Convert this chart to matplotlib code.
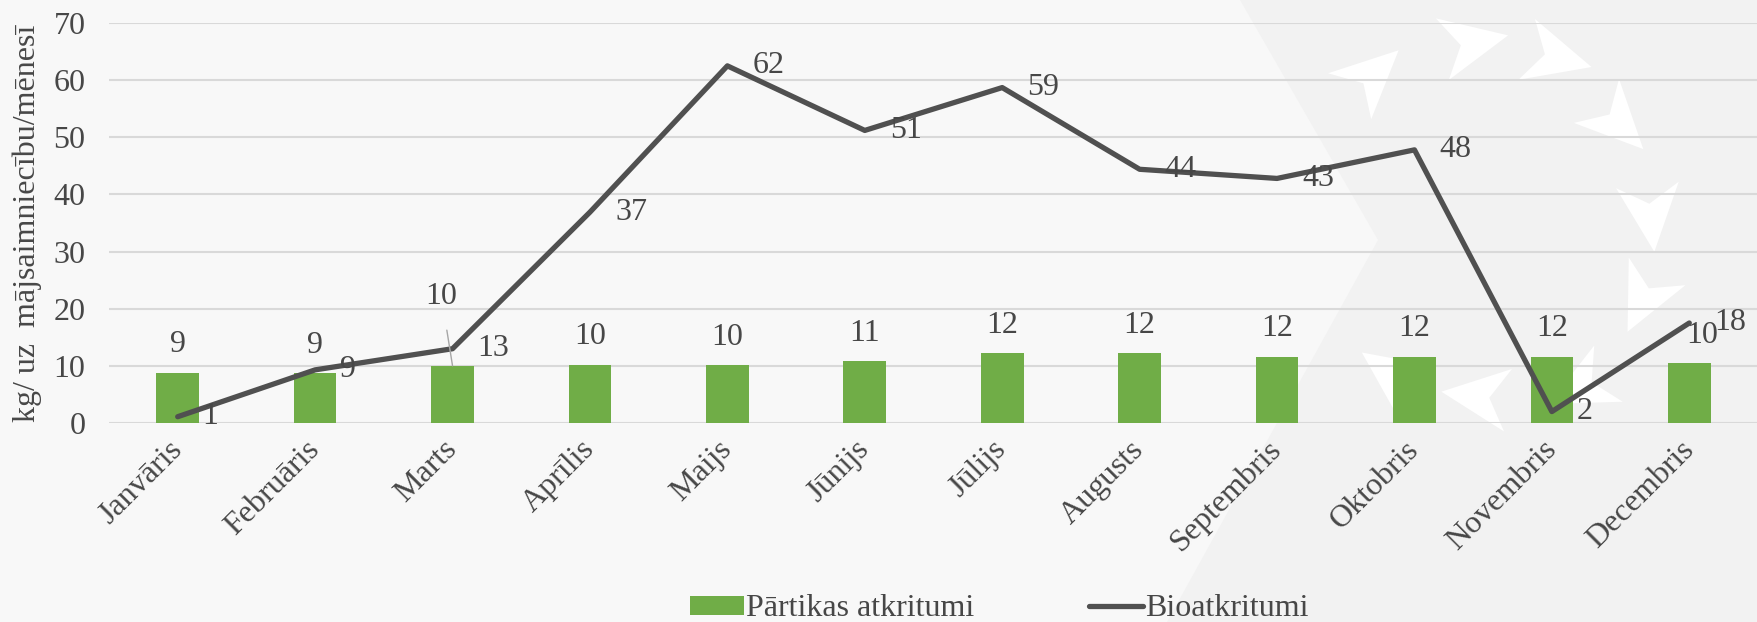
import numpy as np
import matplotlib.pyplot as plt
from matplotlib.patches import Patch, Polygon
from matplotlib.lines import Line2D

# Dati
menesi = ["Janvāris", "Februāris", "Marts", "Aprīlis", "Maijs", "Jūnijs",
          "Jūlijs", "Augusts", "Septembris", "Oktobris", "Novembris", "Decembris"]
partikas = [8.8, 8.7, 10.0, 10.2, 10.1, 10.8, 12.2, 12.2, 11.6, 11.6, 11.6, 10.5]
bio = [1.1, 9.3, 13.0, 36.9, 62.5, 51.2, 58.7, 44.4, 42.8, 47.8, 2.0, 17.5]

W, H = 1758, 622
GREEN = "#70AD47"
LINE = "#505050"
TEXT = "#474747"
FS = 23

plt.rcParams["font.family"] = ["Liberation Serif", "DejaVu Serif"]

fig = plt.figure(figsize=(W / 100, H / 100), dpi=100)
fig.patch.set_facecolor("#F8F8F8")


def px(points):
    return [(x / W, 1 - y / H) for x, y in points]


# fona dekorācija (pelēkais laukums un baltās bultas)
fig.patches.append(Polygon(px([(1240, 0), (W, 0), (W, H), (1167, H), (1378, 240)]),
                           closed=True, transform=fig.transFigure,
                           facecolor="#F2F2F2", edgecolor="none", zorder=-2))

arrow_pos = [(1368, 79), (1467, 44), (1551, 56), (1614, 119), (1650, 210),
             (1646, 294), (1586, 385), (1483, 397), (1396, 377)]
cx, cy = 1505, 225
shape = np.array([(1.0, 0.0), (-0.6, 0.75), (-0.15, 0.0), (-0.6, -0.75)]) * 42
for x, y in arrow_pos:
    ang = np.arctan2(y - cy, x - cx) + np.pi / 2
    rot = np.array([[np.cos(ang), -np.sin(ang)], [np.sin(ang), np.cos(ang)]])
    pts = shape @ rot.T + (x, y)
    fig.patches.append(Polygon(px(pts), closed=True, transform=fig.transFigure,
                               facecolor="white", edgecolor="none", zorder=-1))

ax = fig.add_axes([109 / W, 1 - 423 / H, (W - 109) / W, 400 / H])
ax.set_zorder(1)
ax.set_facecolor("none")
x = np.arange(len(menesi))

ax.bar(x, partikas, width=0.31, color=GREEN, zorder=2)
ax.plot(x, bio, color=LINE, lw=3.8, solid_capstyle="round", zorder=3)

ax.set_xlim(-0.5, len(menesi) - 0.5)
ax.set_ylim(0, 70)
ax.set_yticks(range(0, 71, 10))
ax.grid(axis="y", color="#D9D9D9", lw=1.5, zorder=1)
ax.set_axisbelow(True)
for s in ax.spines.values():
    s.set_visible(False)
ax.tick_params(length=0, labelsize=FS, labelcolor=TEXT)
ax.tick_params(axis="y", pad=17)
ax.set_xticks(x)
ax.set_xticklabels(menesi, rotation=45, ha="right", va="center",
                   rotation_mode="anchor")
ax.tick_params(axis="x", pad=16)
ax.set_ylabel("kg/ uz  mājsaimniecību/mēnesī", fontsize=FS, color=TEXT)
ax.yaxis.set_label_coords(-0.0406, 0.5)

# datu etiķetes
for i, v in enumerate(partikas):
    if i == 2:
        ax.annotate(f"{v:.0f}", (i, v), xytext=(-8, 50), textcoords="offset points",
                    ha="center", va="center", fontsize=FS, color=TEXT, zorder=4,
                    arrowprops=dict(arrowstyle="-", color="#A6A6A6", lw=1,
                                    shrinkA=12, shrinkB=0))
        continue
    dx = 9 if i == 11 else 0
    ax.annotate(f"{v:.0f}", (i, v), xytext=(dx, 20), textcoords="offset points",
                ha="center", va="center", fontsize=FS, color=TEXT, zorder=4)

for i, v in enumerate(bio):
    ax.annotate(f"{v:.0f}", (i, v), xytext=(18, 0), textcoords="offset points",
                ha="left", va="center", fontsize=FS, color=TEXT, zorder=4)

handles = [Patch(facecolor=GREEN, edgecolor="none"),
           Line2D([], [], color=LINE, lw=3.8, solid_capstyle="round")]
fig.legend(handles, ["Pārtikas atkritumi", "Bioatkritumi"], loc="center",
           bbox_to_anchor=(999 / W, 1 - 609 / H), ncol=2, frameon=False,
           fontsize=FS, labelcolor=TEXT, handlelength=1.7, handleheight=0.55,
           handletextpad=0.05, columnspacing=3.6)

fig.savefig("out.png", dpi=100, facecolor=fig.get_facecolor())
